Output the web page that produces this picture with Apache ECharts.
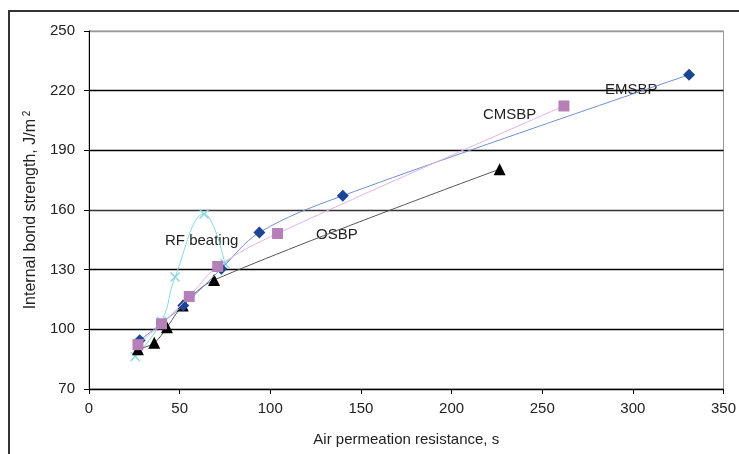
<!DOCTYPE html>
<html>
<head>
  <meta charset="utf-8">
  <script src="https://cdn.jsdelivr.net/npm/echarts@6/dist/echarts.min.js"></script>
</head>
<body style="margin:0;background:#fff;">
  <div id="frame" style="position:absolute;left:8px;top:10px;width:740px;height:450px;border-left:2px solid #333;border-top:2px solid #333;"></div>
  <div id="id_chart" style="position:absolute;left:0;top:0;width:739px;height:454px;"></div>

  <script type="text/javascript">
    // values
    var emsbpX = [28, 52, 73, 94, 140, 331];
    var emsbpY = [94.5, 112, 130.5, 148.7, 167.2, 228];
    var cmsbpX = [27, 40, 55.3, 71, 104, 262];
    var cmsbpY = [92.3, 102.8, 116.5, 131.6, 148.2, 212.3];
    var osbpX = [27, 36, 43, 51.7, 69, 226.5];
    var osbpY = [90, 93.2, 101, 112, 124.8, 180.5];
    var rfX = [25.5, 40, 47.5, 63.5, 75];
    var rfY = [86.4, 104, 126.3, 158, 133];

    function pairs(xs, ys) {
      var out = [];
      for (var i = 0; i < xs.length; i++) out.push([xs[i], ys[i]]);
      return out;
    }

    var crossPath = 'path://M0,1L1,0L5,4L9,0L10,1L6,5L10,9L9,10L5,6L1,10L0,9L4,5Z';
    var lbl = { fontFamily: 'Liberation Sans', fontSize: 15, fill: '#222' };

    var myChart = echarts.init(document.getElementById('id_chart'));
    var option = {
      animation: false,
      grid: {
        left: 89, right: 14, top: 31, bottom: 65,
        show: true, borderColor: '#999', borderWidth: 1
      },
      xAxis: {
        type: 'value',
        min: 0, max: 350, interval: 50,
        name: 'Air permeation resistance, s',
        nameLocation: 'middle',
        nameGap: 43,
        nameTextStyle: { fontFamily: 'Liberation Sans', fontSize: 15, color: '#222' },
        axisLine: { lineStyle: { color: '#000', width: 1 } },
        axisTick: { show: true, length: 5, lineStyle: { color: '#000' } },
        axisLabel: { fontFamily: 'Liberation Sans', fontSize: 15, color: '#222', margin: 12 },
        splitLine: { show: false }
      },
      yAxis: {
        type: 'value',
        min: 70, max: 250, interval: 30,
        name: '{n|Internal bond strength, J/m}{s| 2}',
        nameLocation: 'middle',
        nameGap: 47,
        nameTextStyle: {
          rich: {
            n: { fontFamily: 'Liberation Sans', fontSize: 16, color: '#222' },
            s: { fontFamily: 'Liberation Sans', fontSize: 10, color: '#222', verticalAlign: 'top', padding: [0, 0, 8, 0] }
          }
        },
        axisLine: { show: true, lineStyle: { color: '#000', width: 1 } },
        axisTick: { show: true, length: 5, lineStyle: { color: '#000' } },
        axisLabel: { fontFamily: 'Liberation Sans', fontSize: 15, color: '#222', margin: 14 },
        splitLine: {
          lineStyle: { color: ['#000', '#000', '#000', '#333', '#000', '#000', '#999'], width: 1.3 }
        }
      },
      series: [
        {
          name: 'RF beating', type: 'line', smooth: 0.45,
          data: pairs(rfX, rfY),
          symbol: crossPath, symbolSize: 10,
          lineStyle: { color: '#86D6E4', width: 1 },
          itemStyle: { color: '#86D6E4' }, z: 1
        },
        {
          name: 'OSBP', type: 'line', smooth: 0.35,
          data: pairs(osbpX, osbpY),
          symbol: 'triangle', symbolSize: 12,
          lineStyle: { color: '#555', width: 1 },
          itemStyle: { color: '#000' }, z: 2
        },
        {
          name: 'EMSBP', type: 'line', smooth: 0.35,
          data: pairs(emsbpX, emsbpY),
          symbol: 'diamond', symbolSize: 12,
          lineStyle: { color: '#6F8FD0', width: 1 },
          itemStyle: { color: '#1C4595' }, z: 3
        },
        {
          name: 'CMSBP', type: 'line', smooth: 0.35,
          data: pairs(cmsbpX, cmsbpY),
          symbol: 'rect', symbolSize: 11,
          lineStyle: { color: '#E2B4E2', width: 1 },
          itemStyle: { color: '#B57FB8' }, z: 4
        }
      ],
      graphic: [
        { type: 'text', left: 165, top: 233, style: Object.assign({ text: 'RF beating' }, lbl) },
        { type: 'text', left: 316, top: 227, style: Object.assign({ text: 'OSBP' }, lbl) },
        { type: 'text', left: 483, top: 107, style: Object.assign({ text: 'CMSBP' }, lbl) },
        { type: 'text', left: 605, top: 82, style: Object.assign({ text: 'EMSBP' }, lbl) }
      ]
    };
    myChart.setOption(option);
  </script>
</body>
</html>
